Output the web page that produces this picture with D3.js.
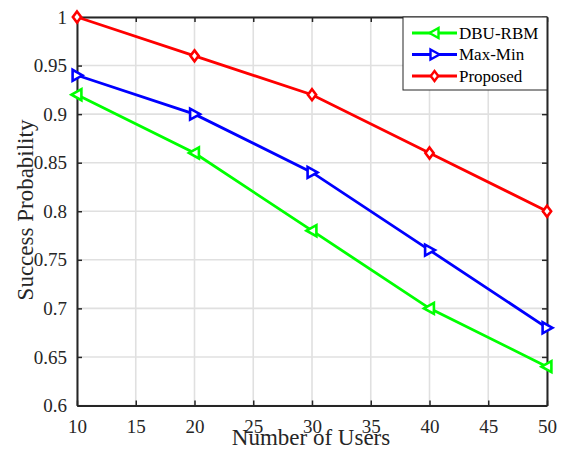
<!DOCTYPE html>
<html><head><meta charset="utf-8">
<script src="https://cdn.jsdelivr.net/npm/d3@7"></script>
<style>body{margin:0;background:#fff}svg{display:block}text{font-family:"Liberation Serif","Times New Roman",serif}</style>
</head><body>
<script>
const users = [10, 20, 30, 40, 50];
const dbuRbm = [0.92, 0.86, 0.78, 0.70, 0.64];
const maxMin = [0.94, 0.90, 0.84, 0.76, 0.68];
const proposed = [1.00, 0.96, 0.92, 0.86, 0.80];
const xTicks = [10, 15, 20, 25, 30, 35, 40, 45, 50];
const yTicks = [0.6, 0.65, 0.7, 0.75, 0.8, 0.85, 0.9, 0.95, 1];
const seriesNames = ["DBU-RBM", "Max-Min", "Proposed"];
const seriesColors = ["#00ff00", "#0000ff", "#ff0000"];
const seriesMarkers = ["left", "right", "diamond"];

const W = 568, H = 455;
const L = 77, R = 547, T = 17, B = 405.5;
const svg = d3.select("body").append("svg").attr("width", W).attr("height", H);
const x = d3.scaleLinear().domain([10, 50]).range([L, R]);
const y = d3.scaleLinear().domain([0.6, 1]).range([B, T]);

// grid
const g = svg.append("g");
g.selectAll(".gx").data(xTicks).enter().append("line")
  .attr("x1", d => x(d)).attr("x2", d => x(d)).attr("y1", T).attr("y2", B)
  .attr("stroke", "#e0e0e0").attr("stroke-width", 1.6);
g.selectAll(".gy").data(yTicks).enter().append("line")
  .attr("y1", d => y(d)).attr("y2", d => y(d)).attr("x1", L).attr("x2", R)
  .attr("stroke", "#e0e0e0").attr("stroke-width", 1.6);

// axes
const axB = d3.axisBottom(x).tickValues(xTicks).tickSizeInner(-5).tickSizeOuter(0).tickPadding(14).tickFormat(d3.format("d"));
const axL = d3.axisLeft(y).tickValues(yTicks).tickSizeInner(-5).tickSizeOuter(0).tickPadding(10).tickFormat(d => String(+d.toFixed(2)));
const axT = d3.axisTop(x).tickValues(xTicks).tickSizeInner(-5).tickSizeOuter(0).tickFormat("");
const axR = d3.axisRight(y).tickValues(yTicks).tickSizeInner(-5).tickSizeOuter(0).tickFormat("");
function styleAx(sel){
  sel.select(".domain").attr("stroke", "#262626").attr("stroke-width", 2);
  sel.selectAll(".tick line").attr("stroke", "#262626").attr("stroke-width", 1.5);
  sel.selectAll("text").attr("font-family", "Liberation Serif").attr("font-size", 19).attr("fill", "#262626");
}
svg.append("g").attr("transform", `translate(0,${B})`).call(axB).call(styleAx);
svg.append("g").attr("transform", `translate(${L},0)`).call(axL).call(styleAx);
svg.append("g").attr("transform", `translate(0,${T})`).call(axT).call(styleAx);
svg.append("g").attr("transform", `translate(${R},0)`).call(axR).call(styleAx);

// series
const data = [dbuRbm, maxMin, proposed];
function markerPath(type, s){
  if (type === "left") return `M${-s},0 L${s*0.8},${-s} L${s*0.8},${s} Z`;
  if (type === "right") return `M${s},0 L${-s*0.8},${-s} L${-s*0.8},${s} Z`;
  return `M0,${-s} L${s*0.75},0 L0,${s} L${-s*0.75},0 Z`;
}
const line = d3.line().x((d, i) => x(users[i])).y(d => y(d));
data.forEach((vals, k) => {
  svg.append("path").datum(vals).attr("d", line)
    .attr("fill", "none").attr("stroke", seriesColors[k]).attr("stroke-width", 2.8);
  svg.selectAll(null).data(vals).enter().append("path")
    .attr("transform", (d, i) => `translate(${x(users[i])},${y(d)})`)
    .attr("d", markerPath(seriesMarkers[k], 5.5))
    .attr("fill", "#fff").attr("stroke", seriesColors[k]).attr("stroke-width", 2.6);
});

// legend
const lg = svg.append("g");
lg.append("rect").attr("x", 403).attr("y", 17).attr("width", 144).attr("height", 73)
  .attr("fill", "#fff").attr("stroke", "#262626").attr("stroke-width", 1);
seriesNames.forEach((n, k) => {
  const yy = 33 + k * 21.5;
  lg.append("line").attr("x1", 412).attr("x2", 457).attr("y1", yy).attr("y2", yy)
    .attr("stroke", seriesColors[k]).attr("stroke-width", 2.8);
  lg.append("path").attr("transform", `translate(434.5,${yy})`).attr("d", markerPath(seriesMarkers[k], 5))
    .attr("fill", "#fff").attr("stroke", seriesColors[k]).attr("stroke-width", 2.4);
  lg.append("text").attr("x", 459).attr("y", yy + 5.5).text(n)
    .attr("font-family", "Liberation Serif").attr("font-size", 17).attr("fill", "#000");
});

// axis labels
svg.append("text").attr("x", 311).attr("y", 445).attr("text-anchor", "middle")
  .attr("font-family", "Liberation Serif").attr("font-size", 23).attr("fill", "#262626").text("Number of Users");
svg.append("text").attr("transform", `translate(33,210) rotate(-90)`).attr("text-anchor", "middle")
  .attr("font-family", "Liberation Serif").attr("font-size", 23).attr("fill", "#262626").text("Success Probability");
</script>
</body></html>
